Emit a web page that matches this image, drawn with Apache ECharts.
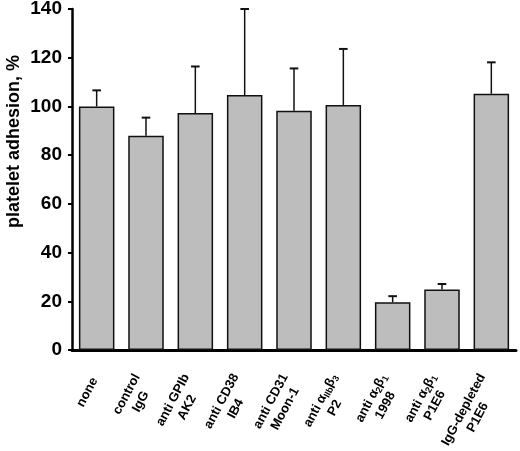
<!DOCTYPE html>
<html>
<head>
<meta charset="utf-8">
<script src="https://cdn.jsdelivr.net/npm/echarts@6/dist/echarts.min.js"></script>
<style>
html,body{margin:0;padding:0;background:#fff;}
#c{width:520px;height:451px;}
</style>
</head>
<body>
<div id="c"></div>
<script>
var categories = [
  '{t|none}',
  '{t|control}\n{t|IgG}',
  '{t|anti GPIb}\n{t|AK2}',
  '{t|anti CD38}\n{t|IB4}',
  '{t|anti CD31}\n{t|Moon-1}',
  '{t|anti α}{s|IIb}{t|β}{s|3}\n{t|P2}',
  '{t|anti α}{s|2}{t|β}{s|1}\n{t|1998}',
  '{t|anti α}{s|2}{t|β}{s|1}\n{t|P1E6}',
  '{t|IgG-depleted}\n{t|P1E6}'
];
var means = [100, 88, 97.3, 104.7, 98.2, 100.6, 19.6, 24.8, 105.2];
var errors = [6.6, 7.4, 19.1, 35.3, 17.4, 23.0, 2.5, 2.3, 12.9];
var yTicks = [0, 20, 40, 60, 80, 100, 120, 140];

var chart = echarts.init(document.getElementById('c'));
var errData = means.map(function (m, i) { return [i, m, m + errors[i]]; });

chart.setOption({
  animation: false,
  grid: {left: 72, right: 4, top: 9, bottom: 101, containLabel: false, outerBoundsMode: 'none'},
  xAxis: {
    type: 'category',
    data: categories,
    axisLine: {lineStyle: {color: '#000', width: 3}},
    axisTick: {show: false},
    axisLabel: {
      interval: 0,
      rotate: 62,
      margin: 25,
      padding: [0, 4, 0, 0],
      color: '#000',
      fontFamily: 'Liberation Sans, Arial, sans-serif',
      fontWeight: 'bold',
      fontSize: 13,
      rich: {
        t: {fontFamily: 'Liberation Sans, Arial, sans-serif', fontWeight: 'bold', fontSize: 13, lineHeight: 16, align: 'center', color: '#000'},
        s: {fontFamily: 'Liberation Sans, Arial, sans-serif', fontWeight: 'bold', fontSize: 9, lineHeight: 16, align: 'center', verticalAlign: 'bottom', color: '#000', padding: [6, 0, 0, 0]}
      }
    }
  },
  yAxis: {
    type: 'value',
    min: 0,
    max: 140,
    interval: 20,
    axisLine: {show: true, lineStyle: {color: '#000', width: 2.5}},
    axisTick: {show: true, length: 4, lineStyle: {color: '#000', width: 2}},
    splitLine: {show: false},
    axisLabel: {
      margin: 10,
      color: '#000',
      fontFamily: 'Liberation Sans, Arial, sans-serif',
      fontWeight: 'bold',
      fontSize: 19,
      formatter: function (v) { return yTicks.indexOf(v) >= 0 ? String(v) : ''; }
    }
  },
  graphic: [{
    type: 'text',
    left: 5,
    top: 55,
    rotation: Math.PI / 2,
    style: {
      text: 'platelet adhesion, %',
      fontFamily: 'Liberation Sans, Arial, sans-serif',
      fontWeight: 'bold',
      fontSize: 18,
      fill: '#000'
    }
  }],
  series: [{
    type: 'bar',
    data: means,
    barWidth: '72%',
    itemStyle: {color: '#bdbdbd', borderColor: '#111', borderWidth: 1.5},
    z: 2
  }, {
    type: 'custom',
    data: errData,
    z: 3,
    renderItem: function (params, api) {
      var i = api.value(0);
      var p0 = api.coord([i, api.value(1)]);
      var p1 = api.coord([i, api.value(2)]);
      var hw = 4.3;
      return {
        type: 'group',
        children: [
          {type: 'line', shape: {x1: p0[0], y1: p0[1], x2: p1[0], y2: p1[1]}, style: {stroke: '#111', lineWidth: 1.5}},
          {type: 'line', shape: {x1: p1[0] - hw, y1: p1[1], x2: p1[0] + hw, y2: p1[1]}, style: {stroke: '#111', lineWidth: 2}}
        ]
      };
    }
  }]
});
</script>
</body>
</html>
